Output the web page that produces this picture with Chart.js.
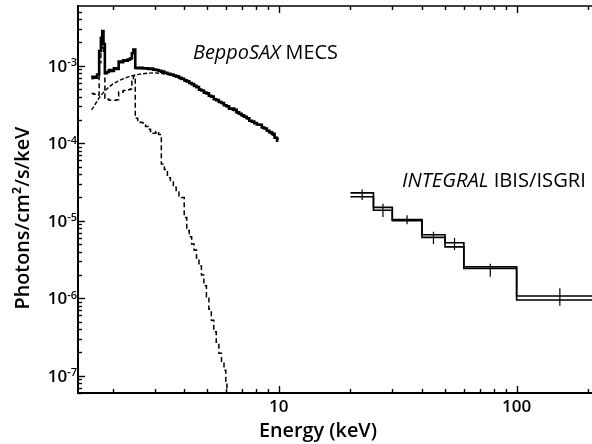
<!DOCTYPE html>
<html>
<head>
<meta charset="utf-8">
<script src="https://cdn.jsdelivr.net/npm/chart.js@4.4.1/dist/chart.umd.min.js"></script>
<style>
  html, body { margin: 0; padding: 0; background: #fff; }
</style>
</head>
<body>
<canvas id="spec" width="592" height="444"></canvas>
<script>
// BeppoSAX MECS spectrum, keV vs photons/cm2/s/keV
const mecsEnergy = [1.63, 1.66, 1.70, 1.74, 1.77, 1.80, 1.82, 1.84, 1.87, 1.91,
  1.95, 2.00, 2.05, 2.10, 2.14, 2.19, 2.24, 2.29, 2.34, 2.39,
  2.43, 2.46, 2.52, 2.58, 2.65, 2.72, 2.78, 2.85, 2.92, 3.00,
  3.08, 3.16, 3.25, 3.35, 3.45, 3.55, 3.65, 3.75, 3.85, 3.95,
  4.05, 4.15, 4.25, 4.35, 4.45, 4.56, 4.67, 4.78, 4.90, 5.02,
  5.14, 5.26, 5.39, 5.52, 5.67, 5.81, 5.95, 6.10, 6.25, 6.41,
  6.57, 6.73, 6.89, 7.06, 7.24, 7.42, 7.60, 7.79, 7.98, 8.18,
  8.38, 8.59, 8.80, 9.02, 9.25, 9.48, 9.72, 9.95];
const mecsFlux = [6.9e-4, 7.2e-4, 7.0e-4, 7.7e-4, 1.55e-3, 2.3e-3, 2.8e-3, 1.9e-3, 8.0e-4, 8.3e-4,
  8.8e-4, 8.6e-4, 9.3e-4, 9.1e-4, 1.13e-3, 1.11e-3, 1.18e-3, 1.16e-3, 1.20e-3, 1.24e-3,
  1.45e-3, 1.62e-3, 9.4e-4, 9.3e-4, 9.4e-4, 9.2e-4, 9.3e-4, 9.1e-4, 9.2e-4, 8.9e-4,
  8.8e-4, 8.6e-4, 8.4e-4, 8.1e-4, 7.9e-4, 7.7e-4, 7.5e-4, 7.3e-4, 7.0e-4, 6.8e-4,
  6.5e-4, 6.3e-4, 6.0e-4, 5.8e-4, 5.5e-4, 5.3e-4, 4.9e-4, 4.8e-4, 4.5e-4, 4.4e-4,
  4.1e-4, 4.0e-4, 3.7e-4, 3.6e-4, 3.4e-4, 3.3e-4, 3.1e-4, 3.0e-4, 2.8e-4, 2.8e-4,
  2.7e-4, 2.5e-4, 2.4e-4, 2.3e-4, 2.2e-4, 2.1e-4, 1.95e-4, 1.9e-4, 1.82e-4, 1.75e-4,
  1.73e-4, 1.6e-4, 1.55e-4, 1.45e-4, 1.38e-4, 1.32e-4, 1.18e-4, 1.08e-4];

// soft (line-rich) component, dashed
const softEnergy = [1.63, 1.70, 1.74, 1.77, 1.80, 1.82, 1.84, 1.87, 1.91, 1.95,
  2.00, 2.05, 2.10, 2.14, 2.19, 2.24, 2.29, 2.34, 2.39, 2.43,
  2.46, 2.52, 2.58, 2.65, 2.72, 2.78, 2.85, 2.92, 3.00, 3.08,
  3.16, 3.25, 3.35, 3.45, 3.55, 3.65, 3.75, 3.85, 3.95, 4.05,
  4.15, 4.25, 4.35, 4.45, 4.56, 4.67, 4.78, 4.90, 5.02, 5.14,
  5.26, 5.39, 5.52, 5.67, 5.81, 5.95, 6.02, 6.08];
const softFlux = [4.4e-4, 4.3e-4, 4.2e-4, 1.1e-3, 1.7e-3, 2.3e-3, 1.4e-3, 3.8e-4, 3.7e-4, 3.6e-4,
  3.6e-4, 3.6e-4, 3.65e-4, 4.6e-4, 4.6e-4, 4.8e-4, 4.8e-4, 4.9e-4, 5.0e-4, 6.3e-4,
  7.4e-4, 2.1e-4, 1.9e-4, 1.85e-4, 1.72e-4, 1.65e-4, 1.52e-4, 1.42e-4, 1.35e-4, 1.42e-4,
  1.3e-4, 5.4e-5, 4.6e-5, 3.6e-5, 3.3e-5, 2.7e-5, 2.35e-5, 2.1e-5, 2.0e-5, 1.1e-5,
  7.5e-6, 6.2e-6, 5.0e-6, 4.2e-6, 3.3e-6, 2.6e-6, 2.0e-6, 1.45e-6, 1.05e-6, 7.2e-7,
  5.2e-7, 3.7e-7, 2.7e-7, 1.95e-7, 1.5e-7, 1.18e-7, 8.5e-8, 4.0e-8];

// absorbed continuum
const contEnergy = [1.63, 1.67, 1.72, 1.78, 1.84, 1.90, 2.0, 2.1, 2.22, 2.33, 2.44, 2.6,
  2.78, 3.0, 3.3, 3.6, 4.0, 4.5, 5.0, 6.0, 7.0, 8.0, 9.0, 10.0];
const contFlux = [2.7e-4, 3.0e-4, 3.5e-4, 4.1e-4, 4.6e-4, 5.1e-4, 5.8e-4, 6.3e-4, 6.8e-4, 7.2e-4, 7.5e-4, 7.8e-4,
  8.0e-4, 8.1e-4, 7.9e-4, 7.4e-4, 6.4e-4, 5.4e-4, 4.4e-4, 3.0e-4, 2.25e-4, 1.8e-4, 1.42e-4, 1.12e-4];

// INTEGRAL IBIS/ISGRI bins
const isgriLo = [20, 25, 30, 40, 50, 60, 100];
const isgriHi = [25, 30, 40, 50, 60, 100, 230];
const isgriCenter = [22.4, 27.4, 34.6, 44.7, 54.8, 77.5, 152];
const isgriFlux = [2.29e-5, 1.49e-5, 1.04e-5, 6.6e-6, 5.2e-6, 2.55e-6, 1.07e-6];
const isgriModel = [2.04e-5, 1.37e-5, 1.0e-5, 6.1e-6, 4.6e-6, 2.43e-6, 0.95e-6];
const isgriErrLo = [1.85e-5, 1.12e-5, 9.0e-6, 5.0e-6, 4.2e-6, 1.9e-6, 0.8e-6];
const isgriErrHi = [2.54e-5, 1.66e-5, 1.18e-5, 7.2e-6, 6.0e-6, 2.8e-6, 1.35e-6];

const yTicks = [1e-3, 1e-4, 1e-5, 1e-6, 1e-7];
const yTickExp = ['-3', '-4', '-5', '-6', '-7'];
const xTicks = [10, 100];
const xTickLabels = ['10', '100'];

const INK = '#000';
const FONT = '"Open Sans", "Noto Sans", sans-serif';

function pts(xs, ys) {
  return xs.map((x, i) => ({x: x, y: ys[i]}));
}
function binSteps(lo, hi, vals) {
  const out = [];
  vals.forEach((v, i) => { out.push({x: lo[i], y: v}, {x: hi[i], y: v}); });
  return out;
}
const errPts = [];
isgriCenter.forEach((c, i) => {
  errPts.push({x: c, y: isgriErrLo[i]}, {x: c, y: isgriErrHi[i]}, {x: c, y: null});
});

// 1..9 x 10^n positions inside the axis range
function logTicks(min, max) {
  const out = [];
  const e0 = Math.floor(Math.log10(min));
  const e1 = Math.ceil(Math.log10(max));
  for (let e = e0; e <= e1; e++) {
    for (let m = 1; m < 10; m++) {
      const v = m * Math.pow(10, e);
      if (v >= min && v <= max) out.push({value: v, major: m === 1});
    }
  }
  return out;
}

// draw text scaled to a given width
function fitText(ctx, parts, x, y, width, align) {
  const probe = 20;
  let total = 0;
  parts.forEach(p => {
    ctx.font = p.style + ' ' + probe + 'px ' + FONT;
    total += ctx.measureText(p.text).width;
  });
  const size = probe * width / total;
  let cx = align === 'center' ? x - width / 2 : x;
  ctx.textAlign = 'left';
  parts.forEach(p => {
    ctx.font = p.style + ' ' + size.toFixed(2) + 'px ' + FONT;
    ctx.fillText(p.text, cx, y);
    cx += ctx.measureText(p.text).width;
  });
}

const decor = {
  id: 'decor',
  afterDraw(chart) {
    const ctx = chart.ctx;
    const a = chart.chartArea;
    const xs = chart.scales.x;
    const ys = chart.scales.y;
    ctx.save();
    ctx.setLineDash([]);
    ctx.strokeStyle = INK;
    ctx.lineWidth = 1.6;
    ctx.beginPath();
    ctx.moveTo(a.left, a.top);
    ctx.lineTo(a.right, a.top);
    ctx.stroke();

    // inward ticks
    ctx.lineWidth = 1.4;
    logTicks(xs.min, xs.max).forEach(t => {
      const px = Math.round(xs.getPixelForValue(t.value)) + 0.5;
      const len = t.major ? 7 : 4;
      ctx.beginPath();
      ctx.moveTo(px, a.bottom);
      ctx.lineTo(px, a.bottom - len);
      ctx.moveTo(px, a.top);
      ctx.lineTo(px, a.top + len);
      ctx.stroke();
    });
    logTicks(ys.min, ys.max).forEach(t => {
      const py = Math.round(ys.getPixelForValue(t.value)) + 0.5;
      const len = t.major ? 7 : 4;
      ctx.beginPath();
      ctx.moveTo(a.left, py);
      ctx.lineTo(a.left + len, py);
      ctx.stroke();
    });

    ctx.fillStyle = INK;
    ctx.textBaseline = 'alphabetic';
    // y tick labels 10^n
    yTicks.forEach((v, i) => {
      const py = ys.getPixelForValue(v);
      ctx.font = '600 11px ' + FONT;
      const ew = ctx.measureText(yTickExp[i]).width;
      ctx.textAlign = 'left';
      ctx.fillText(yTickExp[i], 77 - ew, py + 0.5);
      ctx.font = '600 17px ' + FONT;
      ctx.textAlign = 'right';
      ctx.fillText('10', 77 - ew, py + 6);
    });
    // x tick labels
    ctx.font = '600 17px ' + FONT;
    ctx.textAlign = 'center';
    xTicks.forEach((v, i) => {
      ctx.fillText(xTickLabels[i], xs.getPixelForValue(v), 411.5);
    });

    // axis titles
    fitText(ctx, [{text: 'Energy (keV)', style: '600'}], 318, 437, 118, 'center');
    ctx.save();
    ctx.translate(28.5, 218);
    ctx.rotate(-Math.PI / 2);
    fitText(ctx, [{text: 'Photons/cm\u00b2/s/keV', style: '600'}], 0, 0, 183, 'center');
    ctx.restore();

    // instrument labels
    fitText(ctx, [{text: 'BeppoSAX ', style: 'italic 400'}, {text: 'MECS', style: '400'}],
      193, 59, 145, 'left');
    fitText(ctx, [{text: 'INTEGRAL ', style: 'italic 400'}, {text: 'IBIS/ISGRI', style: '400'}],
      402, 187, 184, 'left');
    ctx.restore();
  }
};

new Chart(document.getElementById('spec'), {
  type: 'line',
  data: {
    datasets: [
      {
        label: 'continuum',
        data: pts(contEnergy, contFlux),
        borderColor: INK, borderWidth: 1.4, borderDash: [4, 2],
        pointRadius: 0, clip: 0
      },
      {
        label: 'soft',
        data: pts(softEnergy, softFlux),
        borderColor: INK, borderWidth: 1.5, borderDash: [5, 3],
        stepped: 'middle', pointRadius: 0, clip: 0
      },
      {
        label: 'MECS',
        data: pts(mecsEnergy, mecsFlux),
        borderColor: INK, borderWidth: 2.6,
        stepped: 'middle', pointRadius: 0, clip: 0
      },
      {
        label: 'ISGRI model',
        data: binSteps(isgriLo, isgriHi, isgriModel),
        borderColor: INK, borderWidth: 1.6,
        pointRadius: 0, clip: 0
      },
      {
        label: 'ISGRI',
        data: binSteps(isgriLo, isgriHi, isgriFlux),
        borderColor: INK, borderWidth: 1.6,
        pointRadius: 0, clip: 0
      },
      {
        label: 'ISGRI errors',
        data: errPts,
        borderColor: INK, borderWidth: 1.2,
        spanGaps: false, pointRadius: 0, clip: 0
      }
    ]
  },
  options: {
    responsive: false,
    animation: false,
    devicePixelRatio: 1,
    layout: { padding: { top: 6, right: -1, left: 0, bottom: 0 } },
    plugins: { legend: { display: false }, tooltip: { enabled: false } },
    scales: {
      x: {
        type: 'logarithmic',
        min: 1.43, max: 207.5,
        grid: { display: false },
        border: { display: true, color: INK, width: 2 },
        ticks: { display: false },
        afterFit: s => { s.height = 51; }
      },
      y: {
        type: 'logarithmic',
        min: 6e-8, max: 5.9e-3,
        grid: { display: false },
        border: { display: true, color: INK, width: 2 },
        ticks: { display: false },
        afterFit: s => { s.width = 78; }
      }
    }
  },
  plugins: [decor]
});
</script>
</body>
</html>
